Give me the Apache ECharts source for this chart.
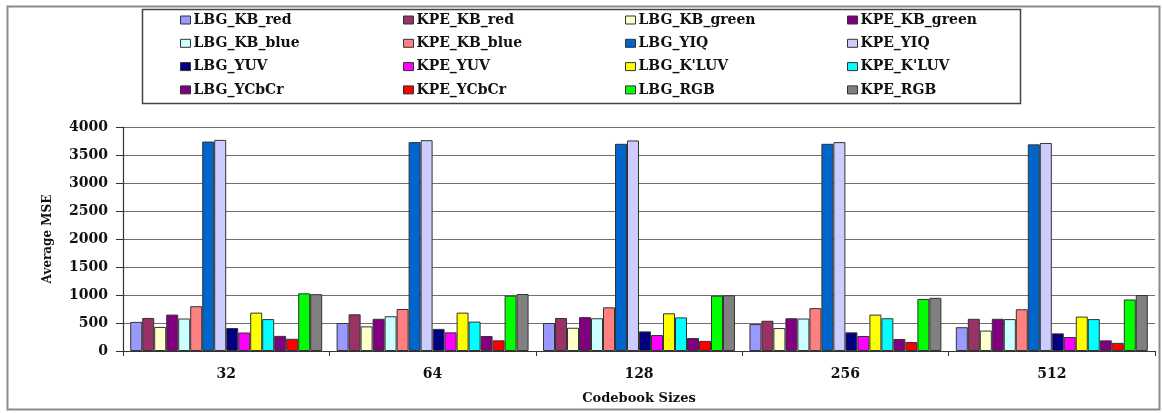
<!DOCTYPE html>
<html>
<head>
<meta charset="utf-8">
<title>Average MSE by Codebook Size</title>
<script src="https://cdn.jsdelivr.net/npm/echarts/dist/echarts.min.js"></script>
<style>
  html, body { margin: 0; padding: 0; background: #fff; }
  #chart { width: 1162px; height: 413px; }
</style>
</head>
<body>
<div id="chart"></div>
<script>
// Codebook sizes on the category axis
const codebookSizes = ['32', '64', '128', '256', '512'];

// Average MSE per method, one value per codebook size
const LBG_KB_red    = [520, 500, 500, 480, 425];
const KPE_KB_red    = [590, 655, 590, 540, 575];
const LBG_KB_green  = [430, 440, 415, 410, 365];
const KPE_KB_green  = [650, 575, 605, 585, 575];
const LBG_KB_blue   = [580, 620, 585, 580, 570];
const KPE_KB_blue   = [800, 750, 780, 765, 745];
const LBG_YIQ       = [3740, 3730, 3700, 3700, 3690];
const KPE_YIQ       = [3770, 3765, 3760, 3730, 3715];
const LBG_YUV       = [410, 395, 350, 333, 315];
const KPE_YUV       = [330, 333, 285, 268, 250];
const LBG_KLUV      = [685, 685, 673, 650, 615];
const KPE_KLUV      = [570, 525, 600, 585, 570];
const LBG_YCbCr     = [270, 268, 232, 215, 190];
const KPE_YCbCr     = [218, 190, 180, 160, 145];
const LBG_RGB       = [1030, 988, 988, 930, 920];
const KPE_RGB       = [1015, 1018, 995, 950, 1000];

// Y axis ticks
const yTicks = [0, 500, 1000, 1500, 2000, 2500, 3000, 3500, 4000];

const seriesList = [
  { name: 'LBG_KB_red',   data: LBG_KB_red,   color: '#9999FF' },
  { name: 'KPE_KB_red',   data: KPE_KB_red,   color: '#993366' },
  { name: 'LBG_KB_green', data: LBG_KB_green, color: '#FFFFCC' },
  { name: 'KPE_KB_green', data: KPE_KB_green, color: '#800080' },
  { name: 'LBG_KB_blue',  data: LBG_KB_blue,  color: '#CCFFFF' },
  { name: 'KPE_KB_blue',  data: KPE_KB_blue,  color: '#FF8080' },
  { name: 'LBG_YIQ',      data: LBG_YIQ,      color: '#0066CC' },
  { name: 'KPE_YIQ',      data: KPE_YIQ,      color: '#CCCCFF' },
  { name: 'LBG_YUV',      data: LBG_YUV,      color: '#000080' },
  { name: 'KPE_YUV',      data: KPE_YUV,      color: '#FF00FF' },
  { name: "LBG_K'LUV",    data: LBG_KLUV,     color: '#FFFF00' },
  { name: "KPE_K'LUV",    data: KPE_KLUV,     color: '#00FFFF' },
  { name: 'LBG_YCbCr',    data: LBG_YCbCr,    color: '#800080' },
  { name: 'KPE_YCbCr',    data: KPE_YCbCr,    color: '#FF0000' },
  { name: 'LBG_RGB',      data: LBG_RGB,      color: '#00FF00' },
  { name: 'KPE_RGB',      data: KPE_RGB,      color: '#808080' }
];

const FONT = '"DejaVu Serif", "Liberation Serif", serif';
const TEXT_COLOR = '#111';

// Legend laid out as 4 columns x 4 rows inside a framed box
const legendColumnsX = [180, 403, 625, 847];
const legends = legendColumnsX.map((x, col) => ({
  orient: 'vertical',
  left: x,
  top: 13,
  padding: 0,
  itemWidth: 10,
  itemHeight: 8,
  itemGap: 9.3,
  icon: 'rect',
  selectedMode: false,
  itemStyle: { borderColor: '#333', borderWidth: 1 },
  textStyle: {
    fontFamily: FONT, fontWeight: 'bold', fontSize: 14,
    color: TEXT_COLOR, lineHeight: 14, padding: [0, 0, 0, -2]
  },
  data: [0, 1, 2, 3].map(r => seriesList[r * 4 + col].name)
}));

const chart = echarts.init(document.getElementById('chart'), null, { renderer: 'canvas' });

chart.setOption({
  animation: false,
  backgroundColor: '#fff',
  graphic: [
    { // outer frame
      type: 'rect', left: 5, top: 4, z: -1,
      shape: { width: 1152, height: 403 },
      style: { fill: 'none', stroke: '#8a8a8a', lineWidth: 2 }
    },
    { // legend frame
      type: 'rect', left: 140, top: 7, z: -1,
      shape: { width: 878, height: 94 },
      style: { fill: 'none', stroke: '#444', lineWidth: 1.5 }
    }
  ],
  legend: legends,
  grid: { left: 123, right: 7, top: 127, bottom: 62, containLabel: false },
  xAxis: {
    type: 'category',
    data: codebookSizes,
    name: 'Codebook Sizes',
    nameLocation: 'middle',
    nameGap: 41,
    nameTextStyle: { fontFamily: FONT, fontWeight: 'bold', fontSize: 13, color: TEXT_COLOR },
    axisLine: { lineStyle: { color: '#333', width: 1.2 } },
    axisTick: { show: true, length: 5, lineStyle: { color: '#333' } },
    axisLabel: { fontFamily: FONT, fontWeight: 'bold', fontSize: 14, color: TEXT_COLOR, margin: 16 }
  },
  yAxis: {
    type: 'value',
    min: yTicks[0],
    max: yTicks[yTicks.length - 1],
    interval: 500,
    name: 'Average MSE',
    nameLocation: 'middle',
    nameGap: 69,
    nameTextStyle: { fontFamily: FONT, fontWeight: 'bold', fontSize: 12, color: TEXT_COLOR },
    axisLine: { show: true, lineStyle: { color: '#333', width: 1.2 } },
    axisTick: { show: true, length: 7, lineStyle: { color: '#333' } },
    axisLabel: {
      fontFamily: FONT, fontWeight: 'bold', fontSize: 14, color: TEXT_COLOR, margin: 15,
      formatter: v => String(v)
    },
    splitLine: { show: true, lineStyle: { color: '#6f6f6f', width: 1.2 } }
  },
  series: seriesList.map(s => ({
    name: s.name,
    type: 'bar',
    data: s.data,
    barGap: '0%',
    barCategoryGap: '7%',
    itemStyle: { color: s.color, borderColor: '#333', borderWidth: 1 }
  }))
});
</script>
</body>
</html>
